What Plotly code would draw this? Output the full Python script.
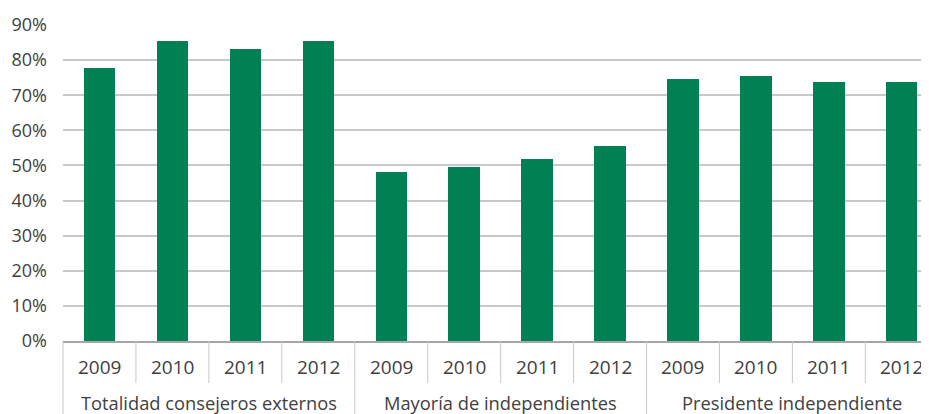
import plotly.graph_objects as go

groups = ["Totalidad consejeros externos", "Mayoría de independientes", "Presidente independiente"]
years = ["2009", "2010", "2011", "2012"]
values_totalidad = [0.778, 0.855, 0.832, 0.855]
values_mayoria = [0.481, 0.496, 0.519, 0.556]
values_presidente = [0.746, 0.755, 0.738, 0.738]
y_ticks = [0, 0.1, 0.2, 0.3, 0.4, 0.5, 0.6, 0.7, 0.8, 0.9]

series = [values_totalidad, values_mayoria, values_presidente]
xs, ys = [], []
for gi, vals in enumerate(series):
    for yi, v in enumerate(vals):
        xs.append(gi * len(years) + yi)
        ys.append(v)

# page body has an 8px default margin; compensate so the plot lands where the reference has it
OFF = 8
W, H = 929 - OFF, 414 - OFF
ML, MR, MT, MB = 63 - OFF, 0, 25 - OFF, 73
plot_w = W - ML - MR
plot_h = H - MT - MB
cat_px = 72.94
x0 = -0.5
x1 = x0 + plot_w / cat_px

def xpaper(v):
    return (v - x0) / (x1 - x0)

text_color = "#404040"
font_family = "Open Sans, Noto Sans, sans-serif"

fig = go.Figure()
fig.add_trace(go.Bar(x=xs, y=ys, width=0.43, marker=dict(color="#008053", line=dict(width=0)),
                     hoverinfo="skip"))

shapes = []
annotations = []
n = len(groups) * len(years)
for k in range(n + 1):
    pos = k - 0.5
    if pos > x1:
        continue
    is_group = (k % len(years) == 0)
    depth = MB + 2 if is_group else 42
    shapes.append(dict(type="line", xref="paper", yref="paper",
                       x0=xpaper(pos), x1=xpaper(pos), y0=0, y1=-depth / plot_h,
                       line=dict(color="#c8c8c8", width=1)))

for gi, g in enumerate(groups):
    for yi, yr in enumerate(years):
        annotations.append(dict(x=gi * len(years) + yi, xref="x", y=-26 / plot_h, yref="paper",
                                text=yr, showarrow=False, yanchor="middle",
                                font=dict(size=19, color=text_color, family=font_family)))
    annotations.append(dict(x=gi * len(years) + (len(years) - 1) / 2, xref="x", y=-61 / plot_h,
                            yref="paper", text=g, showarrow=False, yanchor="middle",
                            font=dict(size=18.3, color=text_color, family=font_family)))

fig.update_layout(
    width=W, height=H,
    margin=dict(l=ML, r=MR, t=MT, b=MB, pad=0),
    paper_bgcolor="white", plot_bgcolor="white",
    showlegend=False,
    bargap=0,
    shapes=shapes,
    annotations=annotations,
    xaxis=dict(range=[x0, x1], showticklabels=False, showgrid=False, zeroline=False,
               showline=True, linecolor="#a6a6a6", linewidth=1.5, ticks=""),
    yaxis=dict(range=[0, 0.9], tickvals=y_ticks, tickformat=".0%", showgrid=True,
               gridcolor="#c8c8c8", gridwidth=1.5, zeroline=False, showline=False,
               ticks="", ticklabelstandoff=15,
               tickfont=dict(size=18, color=text_color, family=font_family)),
)

fig.write_html("out.html")
